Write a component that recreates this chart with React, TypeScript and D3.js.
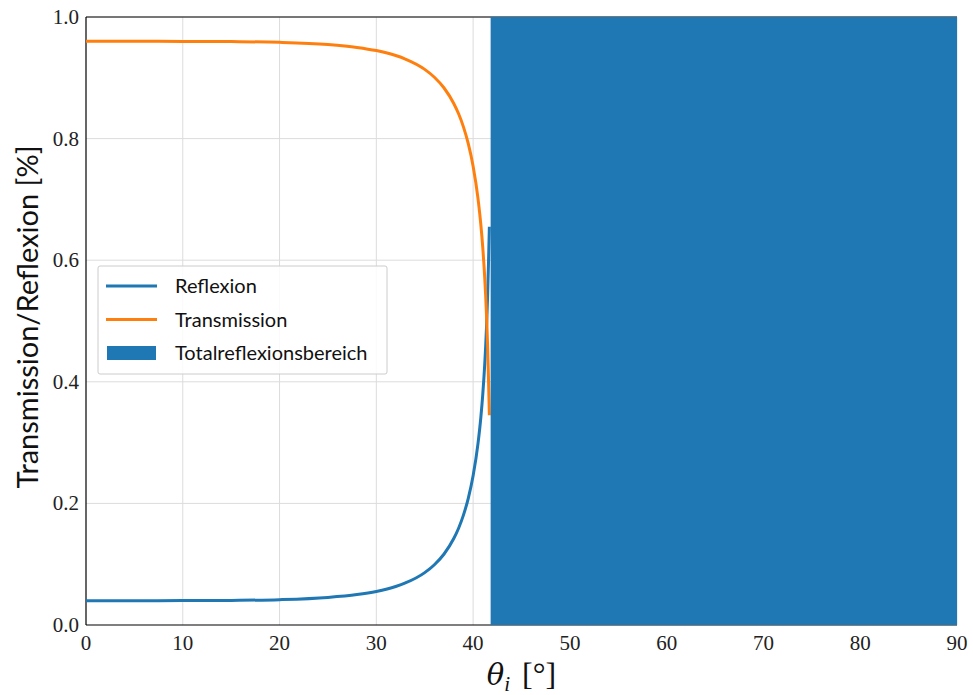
import React, { useEffect, useRef } from 'react';
import * as d3 from 'd3';

const angles = [0, 5, 10, 15, 20, 25, 28, 30, 32, 33, 35, 36, 37, 38, 38.5, 39, 39.5, 40, 40.5, 40.8, 41, 41.2, 41.3, 41.4, 41.5, 41.6, 41.68];
const reflexion = [0.04, 0.04, 0.0401, 0.0405, 0.0417, 0.0453, 0.05, 0.0552, 0.0633, 0.0691, 0.0861, 0.0991, 0.1168, 0.1422, 0.1592, 0.1807, 0.2083, 0.2453, 0.2978, 0.3417, 0.3798, 0.4286, 0.4593, 0.4961, 0.5416, 0.6019, 0.655];
const transmission = [0.96, 0.96, 0.9599, 0.9595, 0.9583, 0.9547, 0.95, 0.9448, 0.9367, 0.9309, 0.9139, 0.9009, 0.8832, 0.8578, 0.8408, 0.8193, 0.7917, 0.7547, 0.7022, 0.6583, 0.6202, 0.5714, 0.5407, 0.5039, 0.4584, 0.3981, 0.345];
const criticalAngle = 41.81;
const xTicks = [0, 10, 20, 30, 40, 50, 60, 70, 80, 90];
const yTicks = [0.0, 0.2, 0.4, 0.6, 0.8, 1.0];

const blue = '#1f77b4';
const orange = '#ff7f0e';

export default function App() {
  const ref = useRef<SVGSVGElement>(null);

  useEffect(() => {
    const svg = d3.select(ref.current!);
    svg.selectAll('*').remove();

    const width = 973;
    const height = 695;
    const m = { top: 17, right: 16, bottom: 70, left: 86 };
    const x = d3.scaleLinear().domain([0, 90]).range([m.left, width - m.right]);
    const y = d3.scaleLinear().domain([0, 1]).range([height - m.bottom, m.top]);

    // Gitter
    const grid = svg.append('g').attr('stroke', '#dcdcdc').attr('stroke-width', 1);
    xTicks.slice(1).forEach((t) => {
      grid.append('line').attr('x1', x(t)).attr('x2', x(t)).attr('y1', y(0)).attr('y2', y(1));
    });
    yTicks.slice(1).forEach((t) => {
      grid.append('line').attr('x1', x(0)).attr('x2', x(90)).attr('y1', y(t)).attr('y2', y(t));
    });

    // Achsen
    const spines = svg.append('g').attr('stroke', '#000').attr('stroke-width', 1.2);
    spines.append('line').attr('x1', x(0)).attr('x2', x(0)).attr('y1', y(0)).attr('y2', y(1));
    spines.append('line').attr('x1', x(0)).attr('x2', x(90)).attr('y1', y(0)).attr('y2', y(0));
    spines.append('line').attr('x1', x(0)).attr('x2', x(90)).attr('y1', y(1)).attr('y2', y(1));

    const idx = d3.range(angles.length);
    const line = (vals: number[]) =>
      d3
        .line<number>()
        .x((i) => x(angles[i]))
        .y((i) => y(vals[i]))
        .curve(d3.curveMonotoneX)(idx);

    svg.append('path').attr('d', line(reflexion)).attr('fill', 'none').attr('stroke', blue).attr('stroke-width', 3);
    svg.append('path').attr('d', line(transmission)).attr('fill', 'none').attr('stroke', orange).attr('stroke-width', 3);

    // Totalreflexionsbereich
    svg
      .append('rect')
      .attr('x', x(criticalAngle))
      .attr('y', y(1))
      .attr('width', x(90) - x(criticalAngle))
      .attr('height', y(0) - y(1))
      .attr('fill', blue);

    // Tick-Beschriftungen
    const serif = "'Liberation Serif', 'DejaVu Serif', serif";
    svg
      .append('g')
      .selectAll('text')
      .data(xTicks)
      .enter()
      .append('text')
      .attr('x', (d) => x(d))
      .attr('y', y(0) + 25)
      .attr('text-anchor', 'middle')
      .attr('font-family', serif)
      .attr('font-size', 21)
      .attr('fill', '#222')
      .text((d) => String(d));
    svg
      .append('g')
      .selectAll('text')
      .data(yTicks)
      .enter()
      .append('text')
      .attr('x', x(0) - 7)
      .attr('y', (d) => y(d) + 7)
      .attr('text-anchor', 'end')
      .attr('font-family', serif)
      .attr('font-size', 21)
      .attr('fill', '#222')
      .text((d) => d.toFixed(1));

    // Achsentitel
    const xl = svg
      .append('text')
      .attr('x', x(45))
      .attr('y', y(0) + 60)
      .attr('text-anchor', 'middle')
      .attr('font-family', serif)
      .attr('font-size', 32)
      .attr('fill', '#111');
    xl.append('tspan').attr('font-family', "'DejaVu Serif', serif").attr('font-style', 'italic').attr('font-size', 29).text('θ');
    xl.append('tspan').attr('font-style', 'italic').attr('font-size', 21).attr('dy', 6).text('i');
    xl.append('tspan').attr('dy', -6).attr('dx', 12).text('[°]');

    svg
      .append('text')
      .attr('transform', `translate(38, ${y(0.5) - 4}) rotate(-90)`)
      .attr('text-anchor', 'middle')
      .attr('font-family', "Lato, 'Open Sans', sans-serif")
      .attr('font-size', 29)
      .attr('fill', '#111')
      .text('Transmission/Reflexion [%]');

    // Legende
    const lg = svg.append('g').attr('transform', 'translate(98, 266)');
    lg.append('rect')
      .attr('width', 289)
      .attr('height', 108)
      .attr('rx', 2)
      .attr('fill', 'rgba(255,255,255,0.85)')
      .attr('stroke', '#ccc');
    const items = [
      { label: 'Reflexion', kind: 'line', color: blue },
      { label: 'Transmission', kind: 'line', color: orange },
      { label: 'Totalreflexionsbereich', kind: 'patch', color: blue },
    ];
    items.forEach((it, i) => {
      const cy = 20 + i * 33.5;
      if (it.kind === 'line') {
        lg.append('line').attr('x1', 8).attr('x2', 59).attr('y1', cy).attr('y2', cy).attr('stroke', it.color).attr('stroke-width', 3);
      } else {
        lg.append('rect').attr('x', 9).attr('y', cy - 7).attr('width', 49).attr('height', 14).attr('fill', it.color);
      }
      lg.append('text')
        .attr('x', 77)
        .attr('y', cy + 7)
        .attr('font-family', "Lato, 'Open Sans', sans-serif")
        .attr('font-size', 20)
        .attr('fill', '#111')
        .text(it.label);
    });
  }, []);

  return <svg ref={ref} width={973} height={695} style={{ position: 'absolute', left: 0, top: 0 }} />;
}
